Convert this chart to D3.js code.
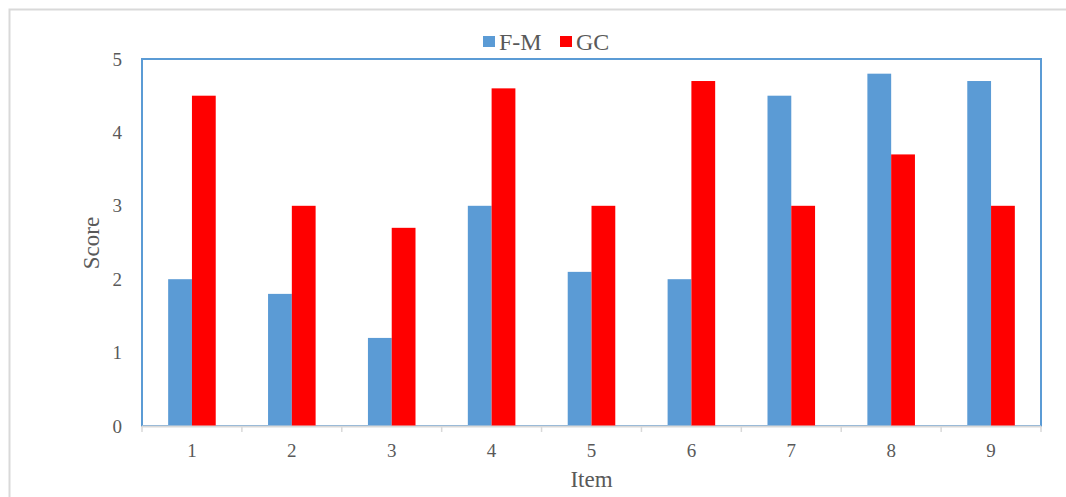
<!DOCTYPE html>
<html>
<head>
<meta charset="utf-8">
<script src="https://cdn.jsdelivr.net/npm/d3@7"></script>
<style>
  body { margin: 0; background: #fff; }
  text { font-family: "Liberation Serif", "Times New Roman", serif; fill: #595959; }
</style>
</head>
<body>
<div id="chart"></div>
<script>
const items = ["1", "2", "3", "4", "5", "6", "7", "8", "9"];
const fmScores = [2, 1.8, 1.2, 3, 2.1, 2, 4.5, 4.8, 4.7];
const gcScores = [4.5, 3, 2.7, 4.6, 3, 4.7, 3, 3.7, 3];
const seriesNames = ["F-M", "GC"];
const seriesColors = ["#5b9bd5", "#ff0000"];
const yTicks = [0, 1, 2, 3, 4, 5];

const width = 1066, height = 497;
const margin = { left: 142, right: 25, top: 59, bottom: 70 };

const svg = d3.select("#chart").append("svg")
  .attr("width", width)
  .attr("height", height);

// outer chart frame (cropped on right/bottom)
svg.append("rect")
  .attr("x", 9.5).attr("y", 9.5)
  .attr("width", 1100).attr("height", 600)
  .attr("fill", "none")
  .attr("stroke", "#d9d9d9")
  .attr("stroke-width", 2);

const x = d3.scaleBand()
  .domain(items)
  .range([margin.left, width - margin.right]);

const y = d3.scaleLinear()
  .domain([0, 5])
  .range([height - margin.bottom - 1, margin.top]);

const inner = d3.scaleBand()
  .domain(seriesNames)
  .range([0, x.bandwidth()])
  .paddingInner(0)
  .paddingOuter(1.1);

// plot area frame
svg.append("rect")
  .attr("x", margin.left)
  .attr("y", margin.top)
  .attr("width", x.range()[1] - margin.left)
  .attr("height", y(0) - margin.top)
  .attr("fill", "none")
  .attr("stroke", "#5b9bd5")
  .attr("stroke-width", 2);

const rows = items.map((d, i) => ({ item: d, vals: [fmScores[i], gcScores[i]] }));

const groups = svg.selectAll(".grp")
  .data(rows)
  .enter()
  .append("g")
  .attr("transform", d => `translate(${x(d.item)},0)`);

groups.selectAll("rect")
  .data(d => d.vals.map((v, k) => ({ name: seriesNames[k], v, k })))
  .enter()
  .append("rect")
  .attr("x", d => inner(d.name))
  .attr("width", inner.bandwidth())
  .attr("y", d => y(d.v))
  .attr("height", d => y(0) - y(d.v))
  .attr("fill", d => seriesColors[d.k]);

// x axis (gray line with tick marks at band edges)
const xAxisG = svg.append("g");
xAxisG.append("line")
  .attr("x1", x.range()[0]).attr("x2", x.range()[1])
  .attr("y1", y(0) + 0.5).attr("y2", y(0) + 0.5)
  .attr("stroke", "#d9d9d9").attr("stroke-width", 2);
const edges = items.map(d => x(d)).concat([x.range()[1]]);
xAxisG.selectAll(".tk")
  .data(edges)
  .enter()
  .append("line")
  .attr("x1", d => d).attr("x2", d => d)
  .attr("y1", y(0)).attr("y2", y(0) + 6)
  .attr("stroke", "#d9d9d9").attr("stroke-width", 1.5);
xAxisG.selectAll(".lbl")
  .data(items)
  .enter()
  .append("text")
  .attr("x", d => x(d) + x.bandwidth() / 2)
  .attr("y", y(0) + 31)
  .attr("text-anchor", "middle")
  .attr("font-size", 19)
  .text(d => d);

// y axis labels
svg.selectAll(".ylbl")
  .data(yTicks)
  .enter()
  .append("text")
  .attr("x", 122)
  .attr("y", d => y(d) + 6.5)
  .attr("text-anchor", "end")
  .attr("font-size", 19)
  .text(d => d);

// axis titles
svg.append("text")
  .attr("x", x.range()[0] + (x.range()[1] - x.range()[0]) / 2)
  .attr("y", 487)
  .attr("text-anchor", "middle")
  .attr("font-size", 23)
  .text("Item");

svg.append("text")
  .attr("transform", `translate(99,243) rotate(-90)`)
  .attr("text-anchor", "middle")
  .attr("font-size", 23)
  .text("Score");

// legend
const legend = svg.append("g");
const legendX = [483, 560];
seriesNames.forEach((name, k) => {
  legend.append("rect")
    .attr("x", legendX[k]).attr("y", 36)
    .attr("width", 12).attr("height", 11)
    .attr("fill", seriesColors[k]);
  legend.append("text")
    .attr("x", legendX[k] + 16).attr("y", 50)
    .attr("font-size", 24)
    .text(name);
});
</script>
</body>
</html>
